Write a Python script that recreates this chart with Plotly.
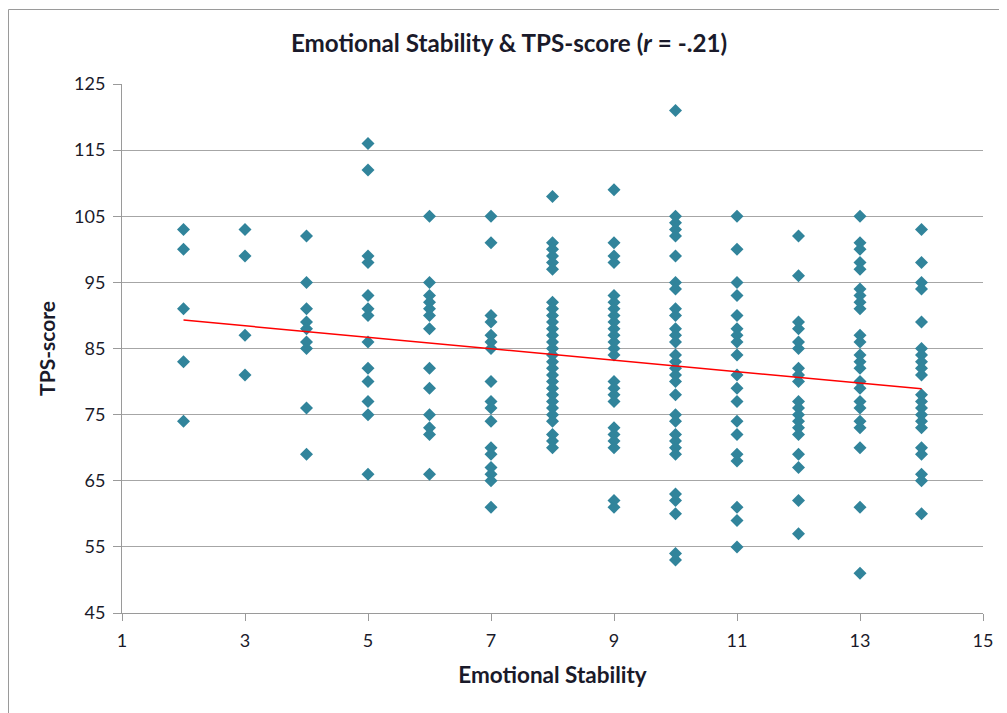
import plotly.graph_objects as go

# Data
stability_levels = [2, 3, 4, 5, 6, 7, 8, 9, 10, 11, 12, 13, 14]
tps_by_level = {
    2: [103, 100, 91, 83, 74],
    3: [103, 99, 87, 81],
    4: [102, 95, 91, 89, 88, 86, 85, 76, 69],
    5: [116, 112, 99, 98, 93, 91, 90, 86, 82, 80, 77, 75, 66],
    6: [105, 95, 93, 92, 91, 90, 88, 82, 79, 75, 73, 72, 66],
    7: [105, 101, 90, 89, 87, 86, 85, 80, 77, 76, 74, 70, 69, 67, 66, 65, 61],
    8: [108, 101, 100, 99, 98, 97, 92, 91, 90, 89, 88, 87, 86, 85, 84, 83, 82,
        81, 80, 79, 78, 77, 76, 75, 74, 72, 71, 70],
    9: [109, 101, 99, 98, 93, 92, 91, 90, 89, 88, 87, 86, 85, 84, 80, 79, 78,
        77, 73, 72, 71, 70, 62, 61],
    10: [121, 105, 104, 103, 102, 99, 95, 94, 91, 90, 88, 87, 86, 84, 83, 82,
         81, 80, 78, 75, 74, 72, 71, 70, 69, 63, 62, 60, 54, 53],
    11: [105, 100, 95, 93, 90, 88, 87, 86, 84, 81, 79, 77, 74, 72, 69, 68, 61,
         59, 55],
    12: [102, 96, 89, 88, 86, 85, 82, 81, 80, 77, 76, 75, 74, 73, 72, 69, 67,
         62, 57],
    13: [105, 101, 100, 98, 97, 94, 93, 92, 91, 87, 86, 84, 83, 82, 80, 79, 77,
         76, 74, 73, 70, 61, 51],
    14: [103, 98, 95, 94, 89, 85, 84, 83, 82, 81, 78, 77, 76, 75, 74, 73, 70,
         69, 66, 65, 60],
}
trend_x = [2, 14]
trend_y = [89.3, 78.9]
x_ticks = [1, 3, 5, 7, 9, 11, 13, 15]
y_ticks = [45, 55, 65, 75, 85, 95, 105, 115, 125]

xs, ys = [], []
for lvl in stability_levels:
    for v in tps_by_level[lvl]:
        xs.append(lvl)
        ys.append(v)

FONT = "Lato, Open Sans, sans-serif"
TXT = "#1a1a2a"

fig = go.Figure()
fig.add_trace(go.Scatter(
    x=xs, y=ys, mode="markers",
    marker=dict(symbol="diamond", size=10, color="#31849B", line=dict(width=0)),
    showlegend=False, hoverinfo="x+y",
))
fig.add_trace(go.Scatter(
    x=trend_x, y=trend_y, mode="lines",
    line=dict(color="#FF0000", width=1.5),
    showlegend=False, hoverinfo="skip",
))

# page has an 8px body margin, so the figure is 8px smaller than the window
W, H = 999, 705
L, R, T, B = 114, 24, 76, 100
pw, ph = W - L - R, H - T - B

def px_x(p):
    return (p - L) / pw

def px_y(p):
    return (H - B - p) / ph

fig.update_layout(
    width=W, height=H,
    margin=dict(l=L, r=R, t=T, b=B),
    paper_bgcolor="white", plot_bgcolor="white",
    font=dict(family=FONT, size=18, color=TXT),
    title=dict(
        text="<b>Emotional Stability &amp; TPS-score (<i>r</i> = -.21)</b>",
        x=501 / W, xref="container", xanchor="center",
        y=1 - 36 / H, yref="container", yanchor="middle",
        font=dict(family=FONT, size=24.2, color=TXT),
    ),
    xaxis=dict(
        range=[1, 15], tickvals=x_ticks, ticktext=[str(t) for t in x_ticks],
        showgrid=False, zeroline=False,
        showline=True, linecolor="#9a9a9a", linewidth=1,
        ticks="outside", ticklen=7, tickcolor="#9a9a9a",
        ticklabelstandoff=4,
        tickfont=dict(size=18, color=TXT),
        title=dict(text="<b>Emotional Stability</b>", font=dict(size=22.5, color=TXT), standoff=17),
    ),
    yaxis=dict(
        range=[45, 125], tickvals=y_ticks, ticktext=[str(t) for t in y_ticks],
        showgrid=True, gridcolor="#a6a6a6", gridwidth=1, zeroline=False,
        showline=True, linecolor="#9a9a9a", linewidth=1,
        ticks="outside", ticklen=8, tickcolor="#9a9a9a",
        ticklabelstandoff=4,
        tickfont=dict(size=18, color=TXT),
        title=dict(text="<b>TPS-score</b>", font=dict(size=21, color=TXT), standoff=12),
    ),
    shapes=[
        dict(type="line", xref="paper", yref="paper",
             x0=px_x(0.5), x1=px_x(W + 5), y0=px_y(1.5), y1=px_y(1.5),
             line=dict(color="#9a9a9a", width=1)),
        dict(type="line", xref="paper", yref="paper",
             x0=px_x(0.5), x1=px_x(0.5), y0=px_y(1.5), y1=px_y(H + 5),
             line=dict(color="#9a9a9a", width=1)),
    ],
)

fig.write_html("out.html")
